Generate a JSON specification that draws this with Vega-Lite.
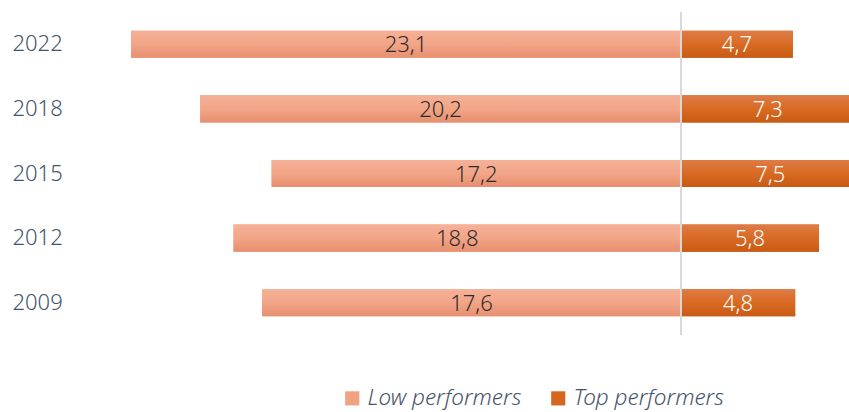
{
  "$schema": "https://vega.github.io/schema/vega-lite/v6.json",
  "width": 774,
  "height": 323,
  "autosize": "none",
  "padding": {"left": 75, "top": 12, "right": 0, "bottom": 77},
  "background": "white",
  "config": {
    "view": {"stroke": null},
    "locale": {"number": {"decimal": ",", "thousands": ".", "grouping": [3], "currency": ["", " €"]}},
    "font": "Noto Sans"
  },
  "data": {
    "values": [
      {"year": "2022", "group": "Low performers", "value": 23.1},
      {"year": "2022", "group": "Top performers", "value": 4.7},
      {"year": "2018", "group": "Low performers", "value": 20.2},
      {"year": "2018", "group": "Top performers", "value": 7.3},
      {"year": "2015", "group": "Low performers", "value": 17.2},
      {"year": "2015", "group": "Top performers", "value": 7.5},
      {"year": "2012", "group": "Low performers", "value": 18.8},
      {"year": "2012", "group": "Top performers", "value": 5.8},
      {"year": "2009", "group": "Low performers", "value": 17.6},
      {"year": "2009", "group": "Top performers", "value": 4.8}
    ]
  },
  "transform": [
    {"calculate": "datum.group === 'Low performers' ? -datum.value : datum.value", "as": "signed"},
    {"calculate": "datum.signed / 2", "as": "mid"}
  ],
  "encoding": {
    "y": {
      "field": "year", "type": "nominal",
      "sort": ["2022", "2018", "2015", "2012", "2009"],
      "scale": {"paddingInner": 0.58, "paddingOuter": 0.29},
      "axis": {"title": null, "domain": false, "ticks": false, "labelAlign": "left", "labelPadding": 63,
               "labelFontSize": 22, "labelColor": "#44546a", "labelFont": "Noto Sans", "labelFontWeight": 300}
    },
    "x": {"field": "signed", "type": "quantitative", "scale": {"domain": [-25.46, 7.06], "nice": false, "zero": false}, "axis": null}
  },
  "layer": [
    {
      "mark": {"type": "bar", "clip": true},
      "encoding": {
        "color": {
          "field": "group", "type": "nominal",
          "scale": {"domain": ["Low performers", "Top performers"], "range": ["#f0a282", "#d6661f"]},
          "legend": {
            "title": null, "orient": "none", "direction": "horizontal",
            "legendX": 266, "legendY": 375,
            "symbolType": "square", "symbolSize": 200, "symbolStrokeWidth": 0,
            "labelFontSize": 22.5, "labelFontStyle": "italic", "labelColor": "#44546a",
            "labelFont": "Noto Sans", "labelFontWeight": 300, "columnPadding": 25, "labelOffset": 4, "labelLimit": 300
          }
        }
      }
    },
    {
      "transform": [{"filter": "datum.group === 'Low performers'"}],
      "mark": {"type": "bar", "clip": true,
        "fill": {"gradient": "linear", "x1": 0, "y1": 0, "x2": 0, "y2": 1,
          "stops": [{"offset": 0, "color": "#f5b197"}, {"offset": 0.5, "color": "#f2a587"}, {"offset": 1, "color": "#e68f6e"}]}}
    },
    {
      "transform": [{"filter": "datum.group === 'Top performers'"}],
      "mark": {"type": "bar", "clip": true,
        "fill": {"gradient": "linear", "x1": 0, "y1": 0, "x2": 0, "y2": 1,
          "stops": [{"offset": 0, "color": "#de7c48"}, {"offset": 0.5, "color": "#d96a22"}, {"offset": 1, "color": "#c85a14"}]}}
    },
    {
      "mark": {"type": "rule", "color": "#d9d9d9", "strokeWidth": 2},
      "data": {"values": [{"zero": 0}]},
      "encoding": {
        "x": {"field": "zero", "type": "quantitative"},
        "y": null
      }
    },
    {
      "mark": {"type": "text", "fontSize": 22, "fontWeight": 300, "baseline": "middle", "dy": 1},
      "encoding": {
        "x": {"field": "mid", "type": "quantitative"},
        "text": {"field": "value", "type": "quantitative", "format": ".1f"},
        "color": {
          "field": "group", "type": "nominal",
          "scale": {"domain": ["Low performers", "Top performers"], "range": ["#2b2b2b", "#ffffff"]},
          "legend": null
        }
      }
    }
  ],
  "resolve": {"scale": {"color": "independent"}}
}
